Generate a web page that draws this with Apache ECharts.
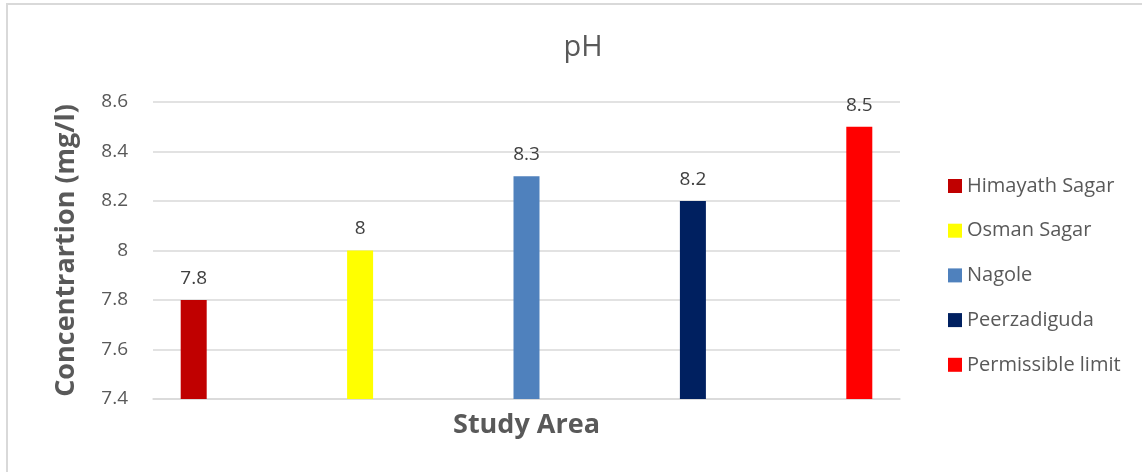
<!DOCTYPE html>
<html>
<head>
<meta charset="utf-8">
<script src="https://cdn.jsdelivr.net/npm/echarts@6/dist/echarts.min.js"></script>
<style>
  html, body { margin: 0; padding: 0; background: #ffffff; }
  #chart { width: 1142px; height: 472px; }
</style>
</head>
<body>
<div id="chart"></div>
<script>
// pH readings per study site, with the permissible limit as the last bar
const sites = ['Himayath Sagar', 'Osman Sagar', 'Nagole', 'Peerzadiguda', 'Permissible limit'];
const phValues = [7.8, 8, 8.3, 8.2, 8.5];
const siteColors = ['#C00000', '#FFFF00', '#4F81BD', '#002060', '#FF0000'];
const yTicks = { min: 7.4, max: 8.6, step: 0.2 };

const FONT = '"Open Sans", Lato, "DejaVu Sans", sans-serif';
const TEXT_GRAY = '#595959';
const GRID_GRAY = '#d9d9d9';

const chart = echarts.init(document.getElementById('chart'), null, { renderer: 'canvas' });

const series = sites.map((name, i) => ({
  name: name,
  type: 'bar',
  data: [phValues[i]],
  barWidth: 26,
  barGap: '540%',
  itemStyle: { color: siteColors[i] },
  label: {
    show: true,
    position: 'top',
    distance: 12,
    color: '#404040',
    fontFamily: FONT,
    fontSize: 19
  }
}));

chart.setOption({
  backgroundColor: '#ffffff',
  animation: false,
  textStyle: { fontFamily: FONT },
  graphic: [{
    type: 'rect',
    silent: true,
    shape: { x: 7, y: 4, width: 1300, height: 700 },
    style: { fill: 'none', stroke: GRID_GRAY, lineWidth: 2 }
  }],
  title: {
    text: 'pH',
    left: 578,
    textAlign: 'center',
    top: 28,
    textStyle: { fontFamily: FONT, fontSize: 29, fontWeight: 'normal', color: TEXT_GRAY }
  },
  legend: {
    orient: 'vertical',
    left: 943,
    top: 171,
    itemWidth: 14,
    itemHeight: 14,
    itemGap: 24.7,
    icon: 'rect',
    data: sites,
    textStyle: { fontFamily: FONT, fontSize: 20, color: TEXT_GRAY }
  },
  grid: { left: 153, right: 242, top: 102, bottom: 73 },
  xAxis: {
    type: 'category',
    data: [''],
    name: 'Study Area',
    nameLocation: 'middle',
    nameGap: 13,
    nameTextStyle: { fontFamily: FONT, fontSize: 27, fontWeight: 'bold', color: TEXT_GRAY },
    axisLine: { lineStyle: { color: GRID_GRAY, width: 1.5 } },
    axisTick: { show: false },
    axisLabel: { show: false }
  },
  yAxis: {
    type: 'value',
    min: yTicks.min,
    max: yTicks.max,
    interval: yTicks.step,
    name: 'Concentrartion (mg/l)',
    nameLocation: 'middle',
    nameGap: 73,
    nameTextStyle: { fontFamily: FONT, fontSize: 27, fontWeight: 'bold', color: TEXT_GRAY },
    axisLine: { show: false },
    axisTick: { show: false },
    axisLabel: {
      margin: 25,
      fontFamily: FONT,
      fontSize: 19,
      color: TEXT_GRAY,
      formatter: v => String(Math.round(v * 10) / 10)
    },
    splitLine: { lineStyle: { color: GRID_GRAY, width: 1.5 } }
  },
  series: series
});
</script>
</body>
</html>
